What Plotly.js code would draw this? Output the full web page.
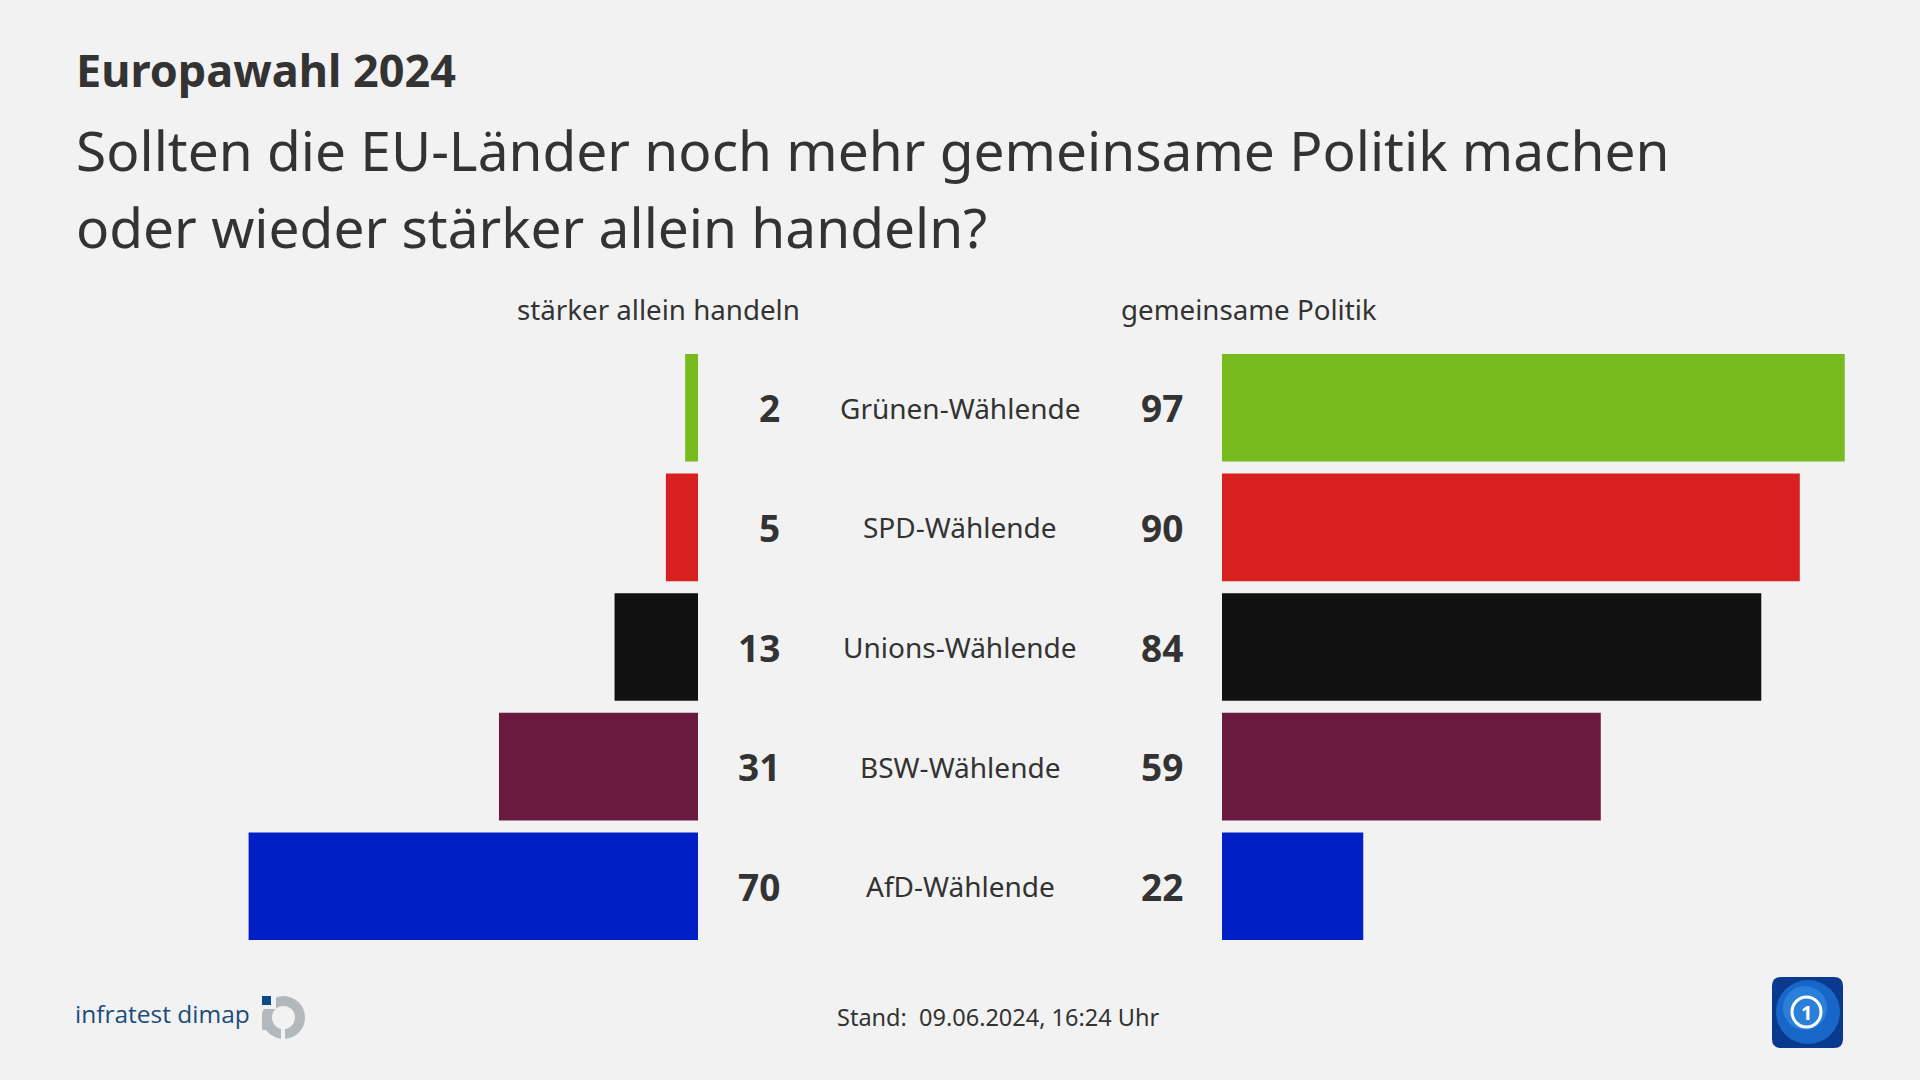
<!DOCTYPE html>
<html>
<head>
<meta charset="utf-8">
<script src="https://cdn.plot.ly/plotly-3.0.1.min.js"></script>
<style>
html,body{margin:0;padding:0;background:#F2F2F2;}
#chart{width:1920px;height:1080px;}
</style>
</head>
<body>
<div id="chart"></div>
<script>
// ---- data ----
const categories = ['Grünen-Wählende', 'SPD-Wählende', 'Unions-Wählende', 'BSW-Wählende', 'AfD-Wählende'];
const alleinValues = [2, 5, 13, 31, 70];      // stärker allein handeln
const gemeinsamValues = [97, 90, 84, 59, 22]; // gemeinsame Politik
const barColors = ['#78BB1E', '#D82020', '#111111', '#6A1A3F', '#0020C6'];
const leftHeader = 'stärker allein handeln';
const rightHeader = 'gemeinsame Politik';
const kicker = 'Europawahl 2024';
const titleLine1 = 'Sollten die EU-Länder noch mehr gemeinsame Politik machen';
const titleLine2 = 'oder wieder stärker allein handeln?';
const footerText = 'Stand:\u00a0 09.06.2024, 16:24 Uhr';
const sourceText = 'infratest dimap';

// ---- helpers (pixel -> paper) ----
const W = 1920, H = 1080;
const px = x => x / W;
const py = y => 1 - y / H;
const FONT = 'Noto Sans, Open Sans, sans-serif';
const TXT = '#333333';
const BG = '#F2F2F2';

const traces = [
  {
    type: 'bar', orientation: 'h',
    y: categories, x: alleinValues,
    xaxis: 'x', yaxis: 'y',
    marker: {color: barColors},
    hoverinfo: 'none'
  },
  {
    type: 'bar', orientation: 'h',
    y: categories, x: gemeinsamValues,
    xaxis: 'x2', yaxis: 'y',
    marker: {color: barColors},
    hoverinfo: 'none'
  }
];

const annotations = [];
categories.forEach((c, i) => {
  annotations.push({
    xref: 'paper', yref: 'y', x: px(782), y: c, xanchor: 'right', yanchor: 'middle',
    text: String(alleinValues[i]), showarrow: false,
    font: {family: FONT, size: 37, color: TXT, weight: 'bold'}
  });
  annotations.push({
    xref: 'paper', yref: 'y', x: px(960), y: c, xanchor: 'center', yanchor: 'middle',
    text: c, showarrow: false,
    font: {family: FONT, size: 28, color: TXT}
  });
  annotations.push({
    xref: 'paper', yref: 'y', x: px(1185), y: c, xanchor: 'right', yanchor: 'middle',
    text: String(gemeinsamValues[i]), showarrow: false,
    font: {family: FONT, size: 37, color: TXT, weight: 'bold'}
  });
});

annotations.push(
  {xref: 'paper', yref: 'paper', x: px(74), y: py(70), xanchor: 'left', yanchor: 'middle',
   text: '<b>' + kicker + '</b>', showarrow: false,
   font: {family: FONT, size: 45, color: TXT}},
  {xref: 'paper', yref: 'paper', x: px(74), y: py(150), xanchor: 'left', yanchor: 'middle',
   text: titleLine1, showarrow: false,
   font: {family: FONT, size: 55, color: TXT}},
  {xref: 'paper', yref: 'paper', x: px(74), y: py(226), xanchor: 'left', yanchor: 'middle',
   text: titleLine2, showarrow: false,
   font: {family: FONT, size: 55, color: TXT}},
  {xref: 'paper', yref: 'paper', x: px(658), y: py(309), xanchor: 'center', yanchor: 'middle',
   text: leftHeader, showarrow: false,
   font: {family: FONT, size: 27.7, color: TXT}},
  {xref: 'paper', yref: 'paper', x: px(1119), y: py(309), xanchor: 'left', yanchor: 'middle',
   text: rightHeader, showarrow: false,
   font: {family: FONT, size: 27.7, color: TXT}},
  {xref: 'paper', yref: 'paper', x: px(998), y: py(1017), xanchor: 'center', yanchor: 'middle',
   text: footerText, showarrow: false,
   font: {family: FONT, size: 23.5, color: TXT}},
  {xref: 'paper', yref: 'paper', x: px(73), y: py(1013), xanchor: 'left', yanchor: 'middle',
   text: sourceText, showarrow: false,
   font: {family: 'Open Sans, sans-serif', size: 24.5, color: '#1B4D7C'}},
  {xref: 'paper', yref: 'paper', x: px(1806), y: py(1012), xanchor: 'center', yanchor: 'middle',
   text: '<b>1</b>', showarrow: false,
   font: {family: FONT, size: 20, color: '#FFFFFF'}}
);

// decorative logos
function rrect(x0, y0, x1, y1, r) {
  const X0 = px(x0), X1 = px(x1), Y0 = py(y0), Y1 = py(y1);
  const rx = r / W, ry = r / H;
  return `M${X0 + rx},${Y0} L${X1 - rx},${Y0} Q${X1},${Y0} ${X1},${Y0 - ry} L${X1},${Y1 + ry} Q${X1},${Y1} ${X1 - rx},${Y1} L${X0 + rx},${Y1} Q${X0},${Y1} ${X0},${Y1 + ry} L${X0},${Y0 - ry} Q${X0},${Y0} ${X0 + rx},${Y0} Z`;
}
const shapes = [
  // infratest dimap icon
  {type: 'circle', xref: 'paper', yref: 'paper', x0: px(262), x1: px(305), y0: py(996), y1: py(1039),
   fillcolor: '#B3B8BD', line: {width: 0}},
  {type: 'circle', xref: 'paper', yref: 'paper', x0: px(272), x1: px(295), y0: py(1006), y1: py(1029),
   fillcolor: BG, line: {width: 0}},
  {type: 'rect', xref: 'paper', yref: 'paper', x0: px(258), x1: px(276), y0: py(992), y1: py(1009),
   fillcolor: BG, line: {width: 0}},
  {type: 'rect', xref: 'paper', yref: 'paper', x0: px(262), x1: px(272), y0: py(1012), y1: py(1030),
   fillcolor: '#B3B8BD', line: {width: 0}},
  {type: 'rect', xref: 'paper', yref: 'paper', x0: px(281), x1: px(285), y0: py(1027), y1: py(1042),
   fillcolor: BG, line: {width: 0}},
  {type: 'rect', xref: 'paper', yref: 'paper', x0: px(262), x1: px(271), y0: py(996), y1: py(1005),
   fillcolor: '#0E4A86', line: {width: 0}},
  // tagesschau icon
  {type: 'path', xref: 'paper', yref: 'paper', path: rrect(1772, 977, 1843, 1048, 9),
   fillcolor: '#0A3A8E', line: {width: 0}},
  {type: 'circle', xref: 'paper', yref: 'paper', x0: px(1776), x1: px(1840), y0: py(980), y1: py(1044),
   fillcolor: '#1766C8', line: {width: 0}},
  {type: 'circle', xref: 'paper', yref: 'paper', x0: px(1783), x1: px(1827), y0: py(986), y1: py(1030),
   fillcolor: '#2F86E0', line: {width: 0}, opacity: 0.8},
  {type: 'circle', xref: 'paper', yref: 'paper', x0: px(1792), x1: px(1821), y0: py(997), y1: py(1027),
   fillcolor: 'rgba(0,0,0,0)', line: {width: 3, color: '#FFFFFF'}}
];

const layout = {
  width: W, height: H,
  margin: {l: 0, r: 0, t: 0, b: 0},
  paper_bgcolor: BG, plot_bgcolor: BG,
  showlegend: false,
  bargap: 0.1,
  xaxis: {domain: [px(56), px(698)], range: [100, 0], visible: false, fixedrange: true},
  xaxis2: {domain: [px(1222), px(1864)], range: [0, 100], visible: false, fixedrange: true, anchor: 'y'},
  yaxis: {domain: [py(946), py(348)], type: 'category', autorange: 'reversed', visible: false, fixedrange: true},
  annotations: annotations,
  shapes: shapes,
  font: {family: FONT, color: TXT}
};

Plotly.newPlot('chart', traces, layout, {displayModeBar: false, staticPlot: true});
</script>
</body>
</html>
